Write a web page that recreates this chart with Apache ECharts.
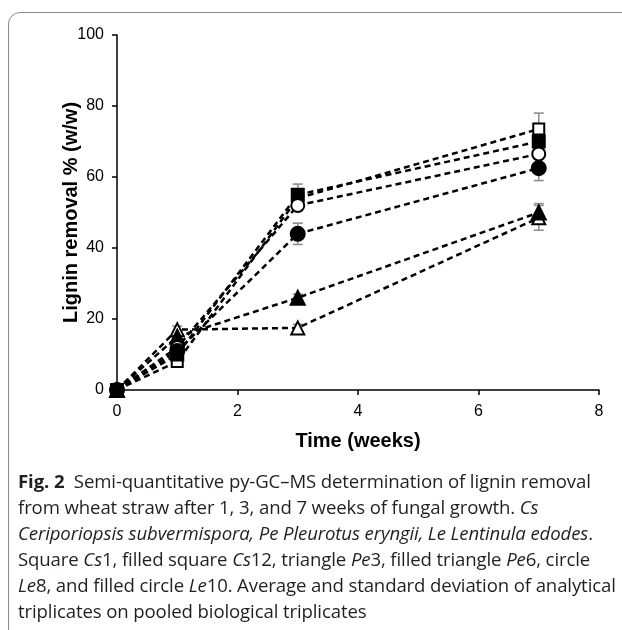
<!DOCTYPE html>
<html>
<head>
<meta charset="utf-8">
<script src="https://cdn.jsdelivr.net/npm/echarts@6/dist/echarts.min.js"></script>
<style>
  html, body { margin: 0; padding: 0; background: #fff; }
  #wrap { position: relative; width: 622px; height: 630px; overflow: hidden; background: #fff; }
  #frame { position: absolute; left: 8px; top: 12px; width: 660px; height: 660px; border: 1.5px solid #8a8a8a; border-radius: 12px; box-sizing: border-box; }
  #chart { position: absolute; left: 0; top: 0; width: 622px; height: 630px; }
  #caption { position: absolute; left: 18px; top: 468px; width: 604px; font-family: "Open Sans", "Noto Sans", sans-serif; font-size: 18.6px; line-height: 26px; color: #231f20; white-space: nowrap; letter-spacing: -0.12px; }
  #caption b { font-weight: 700; }
</style>
</head>
<body>
<div id="wrap">
  <div id="frame"></div>
  <div id="chart"></div>
  <div id="caption">
    <div><b>Fig. 2</b>&nbsp; Semi-quantitative py-GC–MS determination of lignin removal</div>
    <div>from wheat straw after 1, 3, and 7 weeks of fungal growth. <i>Cs</i></div>
    <div><i>Ceriporiopsis subvermispora, Pe Pleurotus eryngii, Le Lentinula edodes</i>.</div>
    <div>Square <i>Cs</i>1, filled square <i>Cs</i>12, triangle <i>Pe</i>3, filled triangle <i>Pe</i>6, circle</div>
    <div><i>Le</i>8, and filled circle <i>Le</i>10. Average and standard deviation of analytical</div>
    <div>triplicates on pooled biological triplicates</div>
  </div>
</div>
<script>
// ---- data ----
const timeWeeks = [0, 1, 3, 7];
const cs1  = [0, 8, 54, 73.5];     // open square
const cs12 = [0, 10, 55, 70];      // filled square
const pe3  = [0, 17, 17.5, 48.5];  // open triangle
const pe6  = [0, 15, 26, 50];      // filled triangle
const le8  = [0, 12, 52, 66.5];    // open circle
const le10 = [0, 11, 44, 62.5];    // filled circle
const cs1Sd  = [0, 1, 1.5, 4.5];
const cs12Sd = [0, 1, 3, 2];
const pe3Sd  = [0, 1, 1, 3.5];
const pe6Sd  = [0, 1, 1, 2.5];
const le8Sd  = [0, 1, 1.5, 1.5];
const le10Sd = [0, 1, 3, 3.5];
const xTicks = [0, 2, 4, 6, 8];
const yTicks = [0, 20, 40, 60, 80, 100];

const seriesDefs = [
  { name: 'Cs1', vals: cs1, sd: cs1Sd, symbol: 'rect', filled: false, size: 11 },
  { name: 'Cs12', vals: cs12, sd: cs12Sd, symbol: 'rect', filled: true, size: 12 },
  { name: 'Pe3', vals: pe3, sd: pe3Sd, symbol: 'triangle', filled: false, size: 13 },
  { name: 'Pe6', vals: pe6, sd: pe6Sd, symbol: 'triangle', filled: true, size: 14 },
  { name: 'Le8', vals: le8, sd: le8Sd, symbol: 'circle', filled: false, size: 13 },
  { name: 'Le10', vals: le10, sd: le10Sd, symbol: 'circle', filled: true, size: 14 }
];

const chart = echarts.init(document.getElementById('chart'), null, { renderer: 'canvas' });
const series = [];
seriesDefs.forEach(function (d) {
  const pts = timeWeeks.map(function (t, i) { return [t, d.vals[i], d.sd[i]]; });
  series.push({
    name: d.name + ' err',
    type: 'custom',
    z: 1,
    data: pts,
    renderItem: function (params, api) {
      const x = api.value(0), y = api.value(1), s = api.value(2);
      if (!s) return null;
      const top = api.coord([x, y + s]);
      const bot = api.coord([x, y - s]);
      const w = 5;
      const st = { stroke: '#8f8f8f', lineWidth: 1.6 };
      return { type: 'group', children: [
        { type: 'line', shape: { x1: top[0], y1: top[1], x2: bot[0], y2: bot[1] }, style: st },
        { type: 'line', shape: { x1: top[0] - w, y1: top[1], x2: top[0] + w, y2: top[1] }, style: st },
        { type: 'line', shape: { x1: bot[0] - w, y1: bot[1], x2: bot[0] + w, y2: bot[1] }, style: st }
      ]};
    }
  });
  series.push({
    name: d.name,
    type: 'line',
    z: 3,
    data: pts.map(function (p) { return [p[0], p[1]]; }),
    symbol: d.symbol,
    symbolSize: d.size,
    showAllSymbol: true,
    lineStyle: { color: '#000', width: 2.5, type: [6, 4] },
    itemStyle: { color: d.filled ? '#000' : '#fff', borderColor: '#000', borderWidth: 2 },
    emphasis: { disabled: true },
    animation: false
  });
});

chart.setOption({
  animation: false,
  backgroundColor: 'transparent',
  grid: { left: 117, right: 23, top: 35, bottom: 240, containLabel: false },
  xAxis: {
    type: 'value', min: 0, max: 8, interval: 2,
    name: 'Time (weeks)', nameLocation: 'middle', nameGap: 41, nameMoveOverlap: false,
    nameTextStyle: { fontFamily: 'Liberation Sans, Arial, sans-serif', fontSize: 20, fontWeight: 'bold', color: '#000' },
    axisLine: { lineStyle: { color: '#000', width: 1.5 } },
    axisTick: { show: true, length: 5, lineStyle: { color: '#000', width: 1.5 } },
    axisLabel: { fontFamily: 'Liberation Sans, Arial, sans-serif', fontSize: 16, color: '#000', margin: 14,
      formatter: function (v) { return xTicks.indexOf(v) >= 0 ? String(v) : ''; } },
    splitLine: { show: false }
  },
  yAxis: {
    type: 'value', min: 0, max: 100, interval: 20,
    name: 'Lignin removal % (w/w)', nameLocation: 'middle', nameGap: 36, nameRotate: 90, nameMoveOverlap: false,
    nameTextStyle: { fontFamily: 'Liberation Sans, Arial, sans-serif', fontSize: 20, fontWeight: 'bold', color: '#000' },
    axisLine: { show: true, lineStyle: { color: '#000', width: 1.5 } },
    axisTick: { show: true, length: 5, lineStyle: { color: '#000', width: 1.5 } },
    axisLabel: { fontFamily: 'Liberation Sans, Arial, sans-serif', fontSize: 16, color: '#000', margin: 13,
      formatter: function (v) { return yTicks.indexOf(v) >= 0 ? String(v) : ''; } },
    splitLine: { show: false }
  },
  series: series
});
</script>
</body>
</html>
